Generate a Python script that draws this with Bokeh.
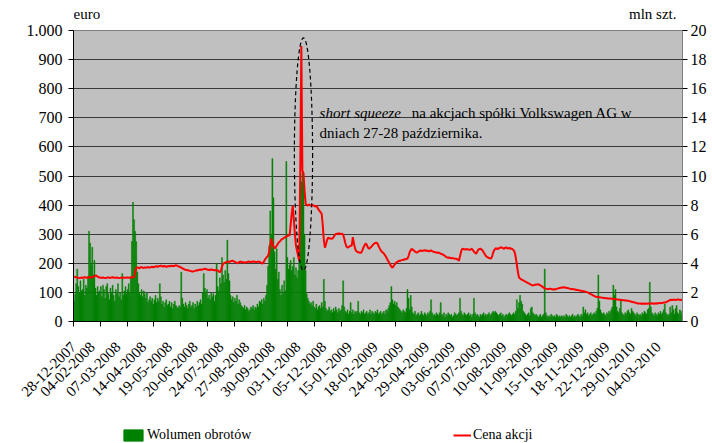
import math
import numpy as np
from bokeh.plotting import figure
from bokeh.layouts import column
from bokeh.models import Range1d, LinearAxis, FixedTicker, Label, Legend, LegendItem
from bokeh.embed import file_html
from bokeh.resources import INLINE

# ---------------- data ----------------
date_labels = ["28-12-2007", "04-02-2008", "07-03-2008", "14-04-2008", "19-05-2008",
               "20-06-2008", "24-07-2008", "27-08-2008", "30-09-2008", "03-11-2008",
               "05-12-2008", "15-01-2009", "18-02-2009", "24-03-2009", "29-04-2009",
               "03-06-2009", "07-07-2009", "10-08-2009", "11-09-2009", "15-10-2009",
               "18-11-2009", "22-12-2009", "29-01-2010", "04-03-2010"]

# share price, euro (one value per trading day)
price_eur = [
    154,153,152,151,150,149,150,151,150,151,152,151,150,151,153,152,151,152,154,156,158,157,154,152,
    151,150,150,151,150,149,150,151,151,150,150,151,152,151,150,150,151,150,149,150,151,150,151,150,
    150,151,151,150,151,152,151,152,153,170,184,186,185,183,186,187,185,184,186,185,186,187,185,186,
    187,188,186,188,189,190,188,190,191,192,190,189,191,190,188,189,190,191,190,192,191,190,192,193,
    192,190,189,187,185,183,181,179,178,177,176,175,174,173,172,172,173,174,176,175,177,178,179,178,
    179,180,181,180,179,178,177,178,179,178,177,176,177,176,175,172,169,175,188,199,200,202,204,205,
    206,205,207,208,209,207,205,203,200,201,204,206,205,203,204,203,202,204,205,206,205,204,206,205,
    206,205,204,205,206,205,203,200,199,205,212,218,222,226,240,262,285,270,258,252,254,260,266,272,
    275,280,283,285,288,290,292,294,296,295,330,370,398,350,300,260,243,225,209,520,947,517,510,450,
    405,400,398,402,400,398,401,399,397,395,398,392,385,380,375,370,330,280,254,265,280,288,286,285,
    284,285,290,296,300,302,301,303,302,300,302,298,285,270,258,254,256,258,260,261,290,270,252,243,
    240,238,237,236,237,245,255,262,268,264,255,250,252,256,260,264,268,270,271,268,260,252,245,240,
    237,233,228,222,215,208,202,195,188,185,190,196,200,204,206,209,208,210,211,212,213,214,215,216,
    225,238,245,250,246,244,240,238,237,240,242,244,243,242,244,245,243,244,242,241,243,244,242,240,
    239,238,237,236,237,235,233,232,230,228,225,222,220,219,220,218,217,218,217,216,216,215,212,209,
    225,240,250,249,248,247,249,248,247,246,248,250,245,240,236,233,240,247,249,250,248,244,238,232,
    226,222,220,218,217,216,225,238,246,250,252,248,251,253,255,254,252,250,253,255,252,251,253,250,
    251,248,245,238,220,195,170,151,148,145,143,141,139,137,135,133,131,129,127,125,124,125,126,127,
    127,128,126,124,122,119,116,114,113,112,111,112,113,112,111,110,111,110,112,113,114,115,116,117,
    117,118,117,116,115,114,113,112,111,112,111,110,109,108,108,107,106,106,105,104,103,102,101,100,
    98,96,94,92,90,88,86,85,84,84,83,83,82,82,81,81,80,80,79,79,79,78,78,78,
    77,77,76,76,75,75,74,74,73,73,72,72,71,71,70,69,68,67,66,65,64,63,62,62,
    62,61,62,61,62,61,61,62,62,61,62,63,62,61,62,63,62,63,64,63,64,64,65,65,
    66,68,70,72,74,75,74,75,75,74,75,76,75,75,74,75,
]

# trading volume, mln shares (one value per trading day)
volume_mln = [
    1.4,1.9,2.6,3.6,2.4,2.0,2.8,2.1,2.2,2.9,1.8,2.5,2.3,3.1,6.2,5.4,3.9,5.1,3.2,4.2,2.3,1.8,2.4,2.0,
    2.1,2.4,1.7,2.5,2.2,1.6,2.4,2.6,1.9,1.5,2.3,2.0,2.5,1.8,1.4,2.2,1.9,2.6,1.7,2.0,1.5,3.3,1.8,2.1,
    2.4,1.9,2.2,2.6,2.0,3.0,5.5,8.2,7.0,6.2,5.5,3.4,2.6,2.0,1.8,2.2,1.7,2.1,1.9,1.6,2.0,1.3,1.5,1.7,
    1.4,1.6,1.2,1.5,1.8,1.3,1.6,1.4,2.6,1.7,1.2,1.4,1.0,1.3,1.5,1.1,1.2,1.4,1.0,1.3,0.9,1.2,1.4,1.1,
    1.0,0.9,1.1,1.0,3.4,1.6,1.2,1.0,1.3,1.1,0.9,1.2,1.4,1.0,1.1,1.3,0.9,1.2,1.0,1.4,1.1,1.3,1.5,1.2,
    2.0,3.3,2.3,1.9,2.2,1.6,1.8,1.5,2.0,1.7,1.9,1.4,1.8,4.0,2.4,2.1,3.0,2.6,4.4,3.2,2.7,3.5,2.9,5.6,
    3.3,2.8,1.8,1.5,1.7,1.3,1.6,1.4,1.8,1.2,1.5,1.3,1.1,1.0,0.9,1.1,0.8,1.0,0.9,0.7,0.8,1.0,0.9,1.1,
    0.8,1.0,0.9,1.2,1.0,1.4,1.3,1.5,1.2,1.6,1.4,1.8,2.5,3.8,5.2,7.6,6.0,11.2,8.5,4.8,3.6,5.0,2.9,3.4,
    2.2,1.8,2.5,1.9,2.8,2.1,11.0,4.4,3.6,3.9,4.2,3.5,3.8,4.4,3.2,3.7,3.0,3.5,4.5,8.0,9.6,10.2,9.5,6.0,
    3.5,1.9,1.6,1.4,1.2,1.3,1.1,1.4,1.0,0.9,1.2,0.8,1.0,1.1,0.9,1.3,1.0,2.9,1.4,0.9,0.7,0.8,1.0,0.7,
    0.8,0.6,0.9,0.7,1.0,0.8,0.6,0.9,0.7,0.8,1.1,2.8,1.0,0.7,0.6,0.8,0.5,0.7,1.3,0.6,0.8,0.5,0.7,0.6,
    0.7,1.4,0.6,0.5,0.7,0.6,0.8,0.5,0.6,0.7,0.5,0.6,0.8,0.5,0.7,0.6,0.5,0.7,0.6,0.8,0.5,0.6,0.7,0.5,
    0.6,0.7,0.5,0.8,0.7,0.9,1.1,1.3,2.4,1.5,1.2,1.4,1.1,1.3,1.0,0.9,0.8,0.7,0.6,0.8,0.7,0.6,0.9,2.2,
    1.6,0.8,1.8,1.0,0.6,0.5,0.7,0.4,0.5,0.6,0.4,0.5,0.7,0.5,0.4,0.6,0.5,0.4,0.6,0.5,0.7,1.5,0.6,0.4,
    0.5,0.4,0.6,0.5,0.4,0.6,1.3,0.5,0.4,0.6,0.3,0.5,0.4,0.6,0.5,0.4,0.5,0.3,0.4,0.6,0.5,0.4,0.5,0.6,
    1.6,0.7,0.5,0.4,0.6,0.5,0.4,0.5,0.6,0.4,0.5,0.3,0.5,1.6,0.6,0.4,0.5,0.4,0.3,0.5,0.4,0.5,0.6,0.4,
    0.5,0.4,0.5,0.6,0.4,0.5,0.6,0.7,0.6,0.7,0.6,0.5,0.4,0.5,0.6,0.4,0.5,0.3,0.4,0.5,0.4,0.5,0.6,0.5,
    0.4,0.5,0.6,0.5,0.7,1.5,0.9,1.3,1.8,1.4,1.2,0.7,0.6,0.5,0.4,0.5,0.6,0.4,0.9,1.0,0.6,0.5,0.4,0.5,
    0.4,0.3,0.4,0.5,0.3,0.4,0.5,3.6,0.6,0.4,0.3,0.4,0.3,0.5,0.4,0.3,0.4,0.3,0.5,0.4,0.3,0.4,0.3,0.4,
    0.3,0.4,0.3,0.5,0.4,0.3,0.4,0.3,0.4,0.5,0.3,0.4,0.3,0.4,0.5,0.4,0.3,0.5,0.4,1.0,0.6,0.8,0.5,0.6,
    0.4,0.5,0.6,0.4,0.5,0.6,0.5,0.7,0.9,3.2,1.4,0.8,0.6,0.5,0.6,0.5,0.4,0.6,0.5,0.7,0.6,0.8,1.0,2.5,
    1.8,2.2,1.0,0.7,0.6,0.9,1.5,0.6,0.5,0.4,0.6,0.5,0.7,0.8,0.6,0.5,0.9,0.7,0.6,0.5,0.4,0.6,0.5,0.4,
    0.5,0.4,0.6,0.5,0.7,0.6,0.5,0.8,0.9,2.7,1.0,0.6,0.5,0.4,0.6,0.5,0.4,0.6,0.5,0.7,0.5,0.6,0.8,1.2,
    0.6,0.5,0.4,0.5,1.0,0.6,1.1,0.8,0.5,0.9,1.1,0.6,0.5,0.8,0.7,0.5,
]

label_step = 24      # trading days between date labels
tick_step = 25       # trading days between tick marks
euro_ticks = list(range(0, 1001, 100))
vol_ticks = list(range(0, 21, 2))

FONT = "Liberation Serif"
GREEN = "#008000"
RED = "#FF0000"
N = len(price_eur)
days = np.arange(N)
W = 709
B_LEFT, B_RIGHT = 73, 24          # borders shared by all three stacked figures
F_LEFT, F_RIGHT = B_LEFT, W - B_RIGHT

# ---------------- strip above the chart: unit captions ----------------
TOP_H = 22
top = figure(width=W, height=TOP_H, output_backend="svg", toolbar_location=None,
             x_range=Range1d(F_LEFT, F_RIGHT), y_range=Range1d(0, TOP_H),
             min_border_left=B_LEFT, min_border_right=B_RIGHT, min_border_top=0,
             min_border_bottom=0, x_axis_type=None, y_axis_type=None, outline_line_color=None)
top.grid.visible = False
top.add_layout(Label(x=F_LEFT, y=8.5, text="euro", text_font=FONT, text_font_size="15px",
                     text_align="left", text_baseline="alphabetic", text_color="black"))
top.add_layout(Label(x=679, y=8.5, text="mln szt.", text_font=FONT, text_font_size="15px",
                     text_align="right", text_baseline="alphabetic", text_color="black"))

# ---------------- main chart ----------------
p = figure(width=W, height=401, output_backend="svg", toolbar_location=None,
           x_range=Range1d(-0.5, N - 0.5), y_range=Range1d(0, 1000),
           min_border_left=B_LEFT, min_border_right=B_RIGHT, min_border_top=8,
           min_border_bottom=102)
p.extra_y_ranges = {"vol": Range1d(0, 20)}
p.background_fill_color = "#C0C0C0"
p.border_fill_color = "white"
p.outline_line_color = "#808080"
p.outline_line_width = 1

p.vbar(x=days, top=volume_mln, bottom=0, width=1.0, y_range_name="vol",
       fill_color=GREEN, line_color=GREEN, line_width=0.4)
p.line(days, price_eur, line_color=RED, line_width=2)

# dashed ellipse around the short squeeze
spike = int(np.argmax(price_eur))
p.ellipse(x=[spike + 2], y=[575], width=17, height=800,
          fill_color=None, line_color="black", line_dash="4 3", line_width=1.2)

p.xgrid.visible = False
p.ygrid.ticker = FixedTicker(ticks=euro_ticks[1:-1])
p.ygrid.grid_line_color = "#3a3a3a"
p.ygrid.grid_line_width = 1

# x axis: a date label every 24 days (set slightly left of its day, as in the original),
# tick marks every 25 days
label_shift = -7
label_pos = [max(label_step * k + label_shift, -0.5) for k in range(len(date_labels))]
xa = p.xaxis[0]
xa.ticker = FixedTicker(ticks=label_pos,
                        minor_ticks=[-0.5 + tick_step * k for k in range(N // tick_step + 1)])
xa.major_label_overrides = {pos: lab for pos, lab in zip(label_pos, date_labels)}
xa.major_label_orientation = math.pi / 4
xa.major_tick_out = 0
xa.major_tick_in = 0
xa.minor_tick_out = 5
xa.minor_tick_in = 0
xa.minor_tick_line_color = "black"
xa.axis_line_color = "black"
xa.major_label_text_font = FONT
xa.major_label_text_font_size = "15px"
xa.major_label_text_color = "black"
xa.major_label_standoff = 18

# left axis (euro)
ya = p.yaxis[0]
ya.ticker = FixedTicker(ticks=euro_ticks)
ya.major_label_overrides = {1000: "1.000"}
ya.major_tick_out = 5
ya.major_tick_in = 0
ya.minor_tick_out = 0
ya.minor_tick_in = 0
ya.axis_line_color = "black"
ya.major_tick_line_color = "black"
ya.major_label_text_font = FONT
ya.major_label_text_font_size = "16px"
ya.major_label_text_color = "black"
ya.major_label_standoff = 6

# right axis (mln szt.)
yr = LinearAxis(y_range_name="vol", ticker=FixedTicker(ticks=vol_ticks))
yr.major_tick_out = 5
yr.major_tick_in = 0
yr.minor_tick_out = 0
yr.minor_tick_in = 0
yr.axis_line_color = "#808080"
yr.major_tick_line_color = "black"
yr.major_label_text_font = FONT
yr.major_label_text_font_size = "16px"
yr.major_label_text_color = "black"
yr.major_label_standoff = 3
p.add_layout(yr, "right")

# annotation inside the plot area
p.add_layout(Label(x=229, y=718, text="short squeeze", text_font=FONT, text_font_size="15px",
                   text_font_style="italic", text_align="left", text_baseline="alphabetic",
                   text_color="black"))
p.add_layout(Label(x=315, y=718, text="na akcjach spółki Volkswagen AG w", text_font=FONT,
                   text_font_size="15px", text_align="left", text_baseline="alphabetic",
                   text_color="black"))
p.add_layout(Label(x=229, y=649, text="dniach 27-28 października.", text_font=FONT,
                   text_font_size="15px", text_align="left", text_baseline="alphabetic",
                   text_color="black"))

# ---------------- strip below the chart: series legend ----------------
BOT_H = 20
bot = figure(width=W, height=BOT_H, output_backend="svg", toolbar_location=None,
             x_range=Range1d(-0.5, N - 0.5), y_range=Range1d(0, 1000),
             min_border_left=B_LEFT, min_border_right=B_RIGHT, min_border_top=0,
             min_border_bottom=0, x_axis_type=None, y_axis_type=None, outline_line_color=None)
bot.grid.visible = False
vol_key = bot.vbar(x=days, top=volume_mln, bottom=0, width=1.0, visible=False,
                   fill_color=GREEN, line_color=GREEN)
price_key = bot.line(days, price_eur, line_color=RED, line_width=2, visible=False)

def make_legend(label, rend, loc, gw):
    return Legend(items=[LegendItem(label=label, renderers=[rend])], location=loc,
                  orientation="horizontal", padding=0, margin=0, spacing=0,
                  border_line_alpha=0, background_fill_alpha=0, inactive_fill_alpha=0,
                  glyph_width=gw, glyph_height=14, label_standoff=2, label_height=14,
                  label_text_font=FONT, label_text_font_size="14px", label_text_color="black")

# offsets are measured from the left edge of the plot area (x = 73 px)
bot.add_layout(make_legend("Wolumen obrotów", vol_key, (48, 0), 24))
bot.add_layout(make_legend("Cena akcji", price_key, (380, 0), 18))

layout = column(top, p, bot, spacing=0)
open("out.html", "w").write(file_html(layout, INLINE))
